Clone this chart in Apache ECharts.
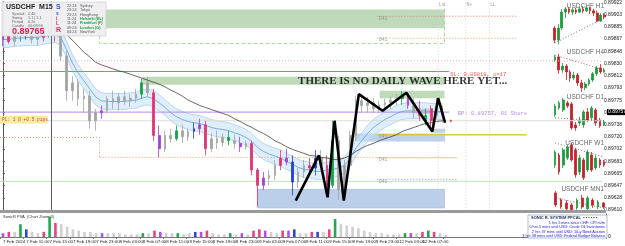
<!DOCTYPE html>
<html><head><meta charset="utf-8"><title>USDCHF M15</title>
<script src="https://cdn.jsdelivr.net/npm/echarts@6.0.0/dist/echarts.min.js"></script>
<style>html,body{margin:0;padding:0;background:#fff;overflow:hidden}#chart{width:625px;height:246px}</style>
</head><body><div id="chart"></div><script>
// ---------- DATA (prices in points = price x 100000, one slot = 1 hour) ----------
const timeTicks = ['7 Feb 2024','7 Feb 11:00','7 Feb 15:00','7 Feb 19:00','7 Feb 23:00','8 Feb 03:00','8 Feb 07:00','8 Feb 11:00','8 Feb 15:00','8 Feb 19:00','8 Feb 23:00','9 Feb 03:00','9 Feb 07:00','9 Feb 11:00','9 Feb 15:00','9 Feb 19:00','9 Feb 23:00','12 Feb 03:00','12 Feb 07:00','12 Feb 11:00'];
const slotsPerTick = 4;
const slotCount = 104;
// [open, close, low, high]
const ohlc = [
[89866,89871,89856,89878],[89871,89863,89860,89881],[89863,89874,89856,89878],[89874,89878,89863,89884],
[89878,89872,89866,89887],[89872,89866,89860,89881],[89866,89869,89857,89878],[89869,89881,89863,89886],
[89881,89875,89869,89893],[89875,89884,89863,89890],[89884,89841,89834,89890],[89841,89789,89774,89849],
[89789,89801,89774,89811],[89801,89777,89767,89807],[89777,89781,89756,89792],[89781,89744,89732,89789],
[89744,89756,89729,89762],[89756,89759,89747,89767],[89759,89777,89755,89781],[89777,89771,89762,89789],
[89771,89780,89759,89786],[89780,89774,89768,89789],[89774,89778,89765,89784],[89778,89784,89771,89792],
[89784,89801,89777,89807],[89801,89786,89781,89810],[89786,89722,89714,89792],[89722,89702,89689,89737],
[89702,89722,89697,89729],[89722,89717,89711,89732],[89717,89729,89714,89737],[89729,89720,89711,89738],
[89720,89728,89714,89732],[89728,89732,89717,89741],[89732,89738,89723,89747],[89738,89702,89692,89744],
[89702,89717,89697,89726],[89717,89711,89702,89729],[89711,89719,89705,89725],[89719,89714,89707,89729],
[89714,89710,89702,89723],[89710,89705,89697,89720],[89705,89710,89700,89714],[89710,89670,89662,89714],
[89670,89647,89615,89673],[89647,89658,89640,89667],[89658,89662,89647,89670],[89662,89677,89655,89685],
[89677,89688,89670,89700],[89688,89682,89677,89702],[89682,89652,89632,89692],[89652,89667,89643,89673],
[89667,89677,89658,89685],[89677,89673,89667,89688],[89673,89688,89662,89700],[89688,89677,89673,89700],
[89677,89647,89640,89692],[89647,89714,89643,89744],[89714,89640,89625,89722],[89640,89677,89632,89685],
[89677,89722,89670,89729],[89722,89774,89714,89781],[89774,89767,89756,89784],[89767,89771,89756,89780],
[89771,89762,89756,89778],[89762,89768,89755,89774],[89768,89771,89759,89777],[89771,89775,89762,89780],
[89775,89777,89767,89784],[89777,89781,89768,89789],[89781,89767,89762,89786],[89767,89756,89747,89778],
[89756,89752,89744,89774],[89752,89744,89737,89762],[89744,89762,89729,89767],[89762,89752,89747,89778],
[89752,89756,89741,89767]];
const pvaTone = ['p','r','n','g','b','n','n','r','g','r','n','n','n','n','n','n','n','p','n','n','n','n','n','n','g','n','r','p','n','n','g','n','n','b','p','r','n','n','n','g','n','p','n','r','r','p','n','n','r','p','b','n','n','r','b','n','r','g','n','n','n','n','n','n','n','n','n','n','n','g','p','n','r','g','r','n','n'];
const volume = [3,4,4,10,6,4,3,4,16,11,10,8,6,5,4,4,3,3,3,3,3,2,2,2,3,3,5,4,3,3,3,2,3,4,4,5,3,2,2,3,2,3,2,5,6,5,4,3,5,5,6,3,3,4,4,4,6,14,10,9,8,7,5,4,3,3,2,2,2,3,3,3,4,5,4,3,2];
const envMid = [89866,89866,89868,89868,89869,89869,89869,89871,89872,89874,89869,89851,89831,89816,89804,89792,89780,89774,89773,89773,89773,89773,89774,89775,89778,89780,89777,89771,89764,89756,89750,89746,89743,89741,89740,89737,89734,89732,89731,89729,89726,89723,89719,89713,89704,89698,89694,89691,89688,89683,89679,89674,89671,89670,89668,89668,89670,89671,89673,89677,89688,89703,89714,89725,89734,89740,89746,89750,89755,89758,89759,89759,89759,89759,89758,89758,89758];
const envHalf = 12;
const maSlow = [null,null,null,null,null,null,null,null,null,null,89883,89874,89865,89856,89847,89840,89832,89828,89825,89822,89819,89817,89814,89811,89808,89805,89802,89799,89795,89790,89786,89781,89775,89771,89767,89764,89761,89758,89755,89752,89747,89743,89738,89734,89729,89725,89720,89714,89710,89705,89701,89698,89695,89692,89691,89689,89688,89686,89686,89688,89692,89698,89703,89707,89710,89714,89717,89720,89723,89728,89731,89734,89737,89740,89741,89743,89744];
// zigzag pivots [slot, price]
const zigzag = [[50.6,89624],[54.6,89692],[56.1,89629],[57.3,89744],[58.9,89624],[61.5,89784],[65.6,89759],[69.7,89786],[74.2,89728],[75.2,89778],[76.4,89741]];
// zones [slotFrom, slotTo, priceTop, priceBottom]
const zones = [[17.2,76.3,89911,89883],[16.7,76.3,89935,89860],[24.1,76.3,89810,89798],[65.1,76.3,89789,89778],[74.2,76.4,89732,89726],[60.8,76.4,89725,89713],[44.0,76.3,89641,89613],[71.4,74.2,89762,89755]];
const zoneKinds = ['green','greenDash','green','green','blue','blue','blueBig','pos'];
// level segments [slot1, price1, slot2, price2]
const levels = [[-0.5,89818,77.1,89818],[-0.5,89834,103.5,89834],[64.7,89901,88.7,89901],[64.7,89868,88.7,89868],[-0.5,89757,77.1,89757],[-0.5,89744,103.5,89744],[64.7,89723,90.5,89723],[-0.5,89719,16.7,89719],[16.7,89719,16.7,89689],[16.7,89689,78.4,89689],[64.7,89688,78.4,89688],[-0.5,89653,103.5,89653],[64.7,89656,78.4,89656],[8.4,89935,8.4,89600],[75.2,89935,75.2,89600],[80.0,89935,80.0,89600],[84.1,89935,84.1,89600]];
const levelKinds = ['red','pinkDot','redDot','oliveDot','purple','grey','yellow','brownDot','brownDot','brownDot','oliveDot','green','blueDot','dark','vdot','vdot','vdot'];
const notes = [
 {s:51.0,p:89803,text:'THERE IS NO DAILY WAVE HERE YET...',kind:'big'},
 {s:77.3,p:89813,text:'SL: 0.89818, p=17',kind:'red'},
 {s:78.6,p:89755,text:'BP: 0.89757, 01 Shore',kind:'purple'},
 {s:65.0,p:89897,text:'D41',kind:'tag'},{s:65.0,p:89865,text:'D41',kind:'tag'},{s:65.0,p:89720,text:'D41',kind:'tag'},
 {s:65.0,p:89686,text:'D41',kind:'tag'},{s:65.0,p:89653,text:'D41',kind:'tag'},
 {s:75.3,p:89918,text:'Lx',kind:'tag'},{s:80.1,p:89918,text:'Nx',kind:'tag'},{s:84.2,p:89918,text:'LL',kind:'tag'}
];
const stopMarker = [[77.4,89744]];
const lastPrice = 89757;
// mini timeframe panels
const h1Candles = [[89714,89665,89653,89722],[89665,89714,89649,89730],[89714,89779,89706,89792],[89779,89792,89755,89800],[89792,89779,89771,89800],[89779,89788,89767,89796],[89788,89779,89771,89796],[89779,89792,89775,89800],[89792,89784,89775,89804],[89784,89796,89779,89804],[89796,89784,89771,89800],[89784,89775,89763,89792],[89775,89743,89739,89784],[89743,89767,89739,89775],[89767,89759,89751,89775]];
const h1Trend = [89653,89755];
const h4Candles = [[89800,89812,89792,89820],[89812,89759,89743,89824],[89759,89775,89747,89787],[89775,89751,89718,89783],[89751,89726,89710,89759],[89726,89738,89718,89751],[89738,89706,89694,89747],[89706,89686,89669,89718],[89686,89702,89677,89710],[89702,89718,89694,89726],[89718,89743,89710,89751],[89743,89767,89734,89775],[89767,89751,89743,89783],[89751,89759,89747,89767]];
const h4Trend = [89820,89759];
const d1Candles = [[89831,89867,89822,89876],[89859,89880,89851,89888],[89851,89892,89843,89900],[89880,89867,89859,89888],[89876,89778,89770,89884],[89790,89778,89766,89802],[89798,89810,89786,89823],[89790,89843,89778,89851],[89843,89810,89802,89859],[89819,89859,89810,89867],[89851,89798,89786,89859],[89810,89786,89778,89819],[89790,89802,89786,89810]];
const d1Trend = [89819,89806];
const w1Candles = [[89810,89863,89798,89872],[89851,89782,89770,89859],[89810,89872,89798,89880],[89839,89884,89831,89892],[89892,89831,89823,89900],[89872,89770,89758,89880],[89782,89839,89770,89851],[89831,89758,89749,89839],[89790,89863,89782,89872],[89851,89790,89782,89863],[89798,89839,89790,89851],[89831,89810,89798,89839],[89823,89810,89802,89831]];
const w1Trend = [89900,89843];
const mn1Candles = [[89888,89839,89831,89896],[89859,89831,89823,89867],[89847,89823,89819,89859],[89839,89819,89810,89847],[89827,89859,89819,89867],[89867,89831,89823,89880],[89823,89867,89810,89876],[89859,89839,89827,89867],[89831,89851,89823,89859],[89847,89831,89823,89851]];
const mn1Trend = [89867,89827];
const miniTitles = ['USDCHF H1','USDCHF H4','USDCHF D1','USDCHF W1','USDCHF MN1'];
const infoRows = [['Spread','2.40'],['Swing','1.1 | 1.1'],['Period','0.2s'],['Candle','00:08:56']];
const sessions = [['22:24','Sydney','#555'],['23:24','Tokyo','#555'],['23:24','HongKong','#555'],['11:24','Helsinki (EL)','#1a9a3a'],['11:24','Frankfurt (F)','#1a9a3a'],['09:24','London (G)','#1a9a3a'],['04:24','NewYork','#555']];
const newsLines = ['1 hrs 5 mins since CHF: CPI m/m','0 hrs 5 mins until USD: Crude Oil Inventories','2 hrs 37 mins until USD: 10-y Bond Auction','3 hrs 38 mins until USD: Federal Budget Balance'];
const bidPrice = '0.89765';
const plText = 'PL: 1 β +0.5 pips';

// ---------- STYLES ----------
const toneColor = {n:'#a3a3a3',g:'#14a046',b:'#1f3fd8',r:'#e2336f',p:'#a43ce2'};
const volColor = {n:'#cfcfcf',g:'#22a650',b:'#2a48d8',r:'#e4457c',p:'#ad52e6'};
const zoneStyle = {
 green:{fill:'rgba(170,205,160,0.75)',stroke:null},
 greenDash:{fill:'none',stroke:'#b5d99c',lineWidth:1,lineDash:[4,2]},
 blue:{fill:'rgba(170,195,228,0.75)',stroke:null},
 blueBig:{fill:'rgba(176,199,230,0.85)',stroke:'#9fb8da',lineWidth:0.6},
 pos:{fill:'rgba(240,170,180,0.8)',stroke:'#e05050',lineWidth:0.8,lineDash:[1,1]}
};
const levelStyle = {
 red:{stroke:'#e46a6a',lineWidth:1},
 pinkDot:{stroke:'#f0b0b0',lineWidth:1,lineDash:[1,2]},
 redDot:{stroke:'#e87070',lineWidth:1,lineDash:[1,2]},
 oliveDot:{stroke:'#b8b040',lineWidth:1,lineDash:[1,2]},
 purple:{stroke:'#b48ae8',lineWidth:1},
 grey:{stroke:'#dcdcdc',lineWidth:1},
 yellow:{stroke:'#d8c84a',lineWidth:1.3},
 brownDot:{stroke:'#d49a7a',lineWidth:1,lineDash:[1,2]},
 green:{stroke:'#bfe3bf',lineWidth:1},
 blueDot:{stroke:'#8a8ae8',lineWidth:1,lineDash:[1,2]},
 dark:{stroke:'#606060',lineWidth:1},
 vdot:{stroke:'#d0d0d0',lineWidth:1,lineDash:[1,2]}
};
const noteStyle = {
 big:{color:'#000',fontFamily:'Liberation Serif',fontWeight:'bold',fontSize:11},
 red:{color:'#e03030',fontFamily:'Liberation Mono',fontSize:5.5},
 purple:{color:'#a070e0',fontFamily:'Liberation Mono',fontSize:5.5},
 tag:{color:'#888',fontFamily:'Liberation Mono',fontSize:4.5}
};

const slots = Array.from({length:slotCount},(_,i)=>String(i));
const yMin = 89610, yMax = 89923;
const fmtP = v => (v/100000).toFixed(5);
const isTick = i => i%slotsPerTick===0 && i/slotsPerTick<timeTicks.length;

const chart = echarts.init(document.getElementById('chart'), null, {renderer:'canvas'});

const miniDefs = [
 {data:h1Candles,trend:h1Trend,top:3,height:44,min:89637,max:89816,titleY:3},
 {data:h4Candles,trend:h4Trend,top:52,height:42,min:89661,max:89832,titleY:49},
 {data:d1Candles,trend:d1Trend,top:98,height:36,min:89753,max:89900,titleY:94},
 {data:w1Candles,trend:w1Trend,top:143,height:38,min:89745,max:89900,titleY:140},
 {data:mn1Candles,trend:mn1Trend,top:190,height:24,min:89802,max:89900,titleY:186}
];

const grids = [
 {left:0,right:19,top:0,height:210},
 {left:0,right:19,top:214,height:23}
];
const xAxes = [
 {type:'category',gridIndex:0,data:slots,show:false,boundaryGap:true},
 {type:'value',gridIndex:0,min:-0.5,max:slotCount-0.5,show:false},
 {type:'category',gridIndex:1,data:slots,boundaryGap:true,
  axisLine:{lineStyle:{color:'#777',width:1}},
  axisTick:{show:true,length:2,lineStyle:{color:'#777'},interval:(i)=>isTick(i)},
  axisLabel:{fontSize:4.4,color:'#222',fontFamily:'Liberation Sans',margin:2.5,align:'left',showMinLabel:true,hideOverlap:false,
   interval:(i)=>isTick(i),
   formatter:(v,i)=> isTick(i)? timeTicks[i/slotsPerTick] : ''}}
];
const yAxes = [
 {type:'value',gridIndex:0,min:yMin,max:yMax,position:'right',interval:18.33,
  splitLine:{show:false},axisLine:{show:true,lineStyle:{color:'#555'}},axisTick:{show:true,length:2,lineStyle:{color:'#555'}},
  axisLabel:{fontSize:5,color:'#222',fontFamily:'Liberation Sans',margin:2,formatter:fmtP}},
 {type:'value',gridIndex:1,min:0,max:18,position:'right',splitLine:{show:false},interval:18,
  axisLine:{show:true,lineStyle:{color:'#555'}},axisTick:{show:false},
  axisLabel:{fontSize:5,color:'#222',margin:2,formatter:v=>v===0?'0':''}}
];
const series = [];

series.push({type:'custom',coordinateSystem:'cartesian2d',xAxisIndex:1,yAxisIndex:0,z:1,clip:true,silent:true,
 data:zones,
 renderItem:(params,api)=>{
   const a = api.coord([api.value(0),api.value(2)]);
   const b = api.coord([api.value(1),api.value(3)]);
   const st = zoneStyle[zoneKinds[params.dataIndex]];
   return {type:'rect',shape:{x:a[0],y:a[1],width:b[0]-a[0],height:b[1]-a[1]},style:Object.assign({},st)};
 }});
series.push({type:'line',xAxisIndex:0,yAxisIndex:0,z:2,stack:'env',symbol:'none',silent:true,
 data:envMid.map(v=>v-envHalf),lineStyle:{color:'#a9cdf0',width:0.8}});
series.push({type:'line',xAxisIndex:0,yAxisIndex:0,z:2,stack:'env',symbol:'none',silent:true,
 data:envMid.map(()=>2*envHalf),lineStyle:{color:'#a9cdf0',width:0.8},areaStyle:{color:'rgba(200,226,248,0.85)'}});
series.push({type:'custom',coordinateSystem:'cartesian2d',xAxisIndex:1,yAxisIndex:0,z:3,clip:true,silent:true,
 data:levels,
 renderItem:(params,api)=>{
   const a = api.coord([api.value(0),api.value(1)]);
   const b = api.coord([api.value(2),api.value(3)]);
   const st = levelStyle[levelKinds[params.dataIndex]];
   return {type:'line',shape:{x1:a[0],y1:a[1],x2:b[0],y2:b[1]},style:Object.assign({fill:null},st)};
 }});
series.push({type:'line',xAxisIndex:0,yAxisIndex:0,z:4,symbol:'none',silent:true,data:envMid,lineStyle:{color:'#5d9ee0',width:0.8}});
series.push({type:'candlestick',xAxisIndex:0,yAxisIndex:0,z:5,barWidth:2.2,silent:true,
 data:ohlc.map((v,i)=>{const c=toneColor[pvaTone[i]];return {value:v,itemStyle:{color:c,color0:c,borderColor:c,borderColor0:c,borderWidth:0.8}};})});
series.push({type:'line',xAxisIndex:0,yAxisIndex:0,z:6,symbol:'none',silent:true,connectNulls:false,data:maSlow,lineStyle:{color:'#404040',width:0.8}});
series.push({type:'line',xAxisIndex:1,yAxisIndex:0,z:7,symbol:'none',silent:true,data:zigzag,lineStyle:{color:'#000',width:2.6}});
series.push({type:'scatter',xAxisIndex:1,yAxisIndex:0,z:8,symbol:'rect',symbolSize:2,silent:true,itemStyle:{color:'#e02020'},data:stopMarker});
series.push({type:'scatter',xAxisIndex:1,yAxisIndex:0,z:8,symbolSize:0,silent:true,
 data:notes.map(n=>({value:[n.s,n.p],label:Object.assign({show:true,position:'right',distance:0,formatter:n.text},noteStyle[n.kind])}))});
series.push({type:'bar',xAxisIndex:2,yAxisIndex:1,barWidth:2.6,silent:true,
 data:volume.map((v,i)=>({value:v,itemStyle:{color:volColor[pvaTone[i]]}}))});

miniDefs.forEach((m,k)=>{
 const g = grids.length;
 grids.push({left:553,right:19,top:m.top,height:m.height});
 const xi = xAxes.length, yi = yAxes.length;
 xAxes.push({type:'category',gridIndex:g,data:m.data.map((_,i)=>i),show:false,boundaryGap:true});
 yAxes.push({type:'value',gridIndex:g,min:m.min,max:m.max,show:false});
 series.push({type:'candlestick',xAxisIndex:xi,yAxisIndex:yi,barWidth:2.2,silent:true,data:m.data,
  itemStyle:{color:'#1e9a3c',color0:'#c8202a',borderColor:'#1e9a3c',borderColor0:'#c8202a',borderWidth:0.8}});
 series.push({type:'line',xAxisIndex:xi,yAxisIndex:yi,symbol:'none',silent:true,
  data:[[0,m.trend[0]],[m.data.length-1,m.trend[1]]],lineStyle:{color:'#555',width:0.8,type:[1,2]}});
});

const gfx = [];
gfx.push({type:'rect',shape:{x:2,y:2,width:104,height:34},style:{fill:'rgba(238,238,240,0.95)',stroke:'#c8c8c8',lineWidth:0.6},z:100});
gfx.push({type:'text',x:6,y:4,style:{text:'USDCHF  M15',fontSize:7,fontWeight:'bold',fill:'#222',fontFamily:'Liberation Sans'},z:101});
infoRows.forEach((r,i)=>{
 gfx.push({type:'text',x:12,y:12+i*4,style:{text:r[0],fontSize:3.8,fill:'#666',fontFamily:'Liberation Sans'},z:101});
 gfx.push({type:'text',x:28,y:12+i*4,style:{text:r[1],fontSize:3.8,fill:'#666',fontFamily:'Liberation Sans'},z:101});
});
gfx.push({type:'text',x:12,y:27,style:{text:bidPrice,fontSize:9,fontWeight:'bold',fill:'#d21f55',fontFamily:'Liberation Sans'},z:101});
[['S','#3050d0',4],['s','#3050d0',11],['i','#d03070',16],['L','#d03070',21],['R','#d03070',27]].forEach(l=>{
 gfx.push({type:'text',x:56,y:l[2],style:{text:l[0],fontSize:l[0]==='S'||l[0]==='R'?7:5,fontWeight:'bold',fill:l[1],fontFamily:'Liberation Sans'},z:101});
});
sessions.forEach((s,i)=>{
 gfx.push({type:'text',x:67,y:4+i*4.3,style:{text:s[0],fontSize:3.8,fill:'#555',fontFamily:'Liberation Sans'},z:101});
 gfx.push({type:'text',x:80,y:4+i*4.3,style:{text:s[1],fontSize:3.8,fill:s[2],fontWeight:s[2]==='#555'?'normal':'bold',fontFamily:'Liberation Sans'},z:101});
});
miniDefs.forEach((m,k)=>{
 gfx.push({type:'text',x:604,y:m.titleY,style:{text:miniTitles[k],fontSize:6.5,fill:'#6a6a6a',align:'right',fontFamily:'Liberation Sans'},z:90});
});
gfx.push({type:'rect',shape:{x:0,y:210,width:606,height:3},style:{fill:'#9a9a9a'},z:95});
gfx.push({type:'text',x:3,y:215,style:{text:'SonicR PVA  (Chart Zoom 3)',fontSize:4,fill:'#333',fontFamily:'Liberation Sans'},z:96});
gfx.push({type:'rect',shape:{x:0,y:116,width:47,height:7},style:{fill:'#fbf3a0',stroke:'#e8d870',lineWidth:0.5},z:96});
gfx.push({type:'text',x:2,y:117.5,style:{text:plText,fontSize:4.5,fill:'#e03030',fontFamily:'Liberation Mono'},z:97});
gfx.push({type:'rect',shape:{x:528,y:215,width:79,height:23},style:{fill:'#fff',stroke:'#8090a0',lineWidth:0.6},z:97});
gfx.push({type:'text',x:531,y:216,style:{text:'SONIC R. SYSTEM PPCAL  ▪ ▪ ▪ ▪ ▪ ▪',fontSize:4,fontWeight:'bold',fill:'#203060',fontFamily:'Liberation Sans'},z:98});
newsLines.forEach((t,i)=>{
 gfx.push({type:'text',x:605,y:221+i*4.3,style:{text:t,fontSize:3.8,fill:'#2020e0',align:'right',fontFamily:'Liberation Sans'},z:98});
});

chart.setOption({
 animation:false,
 backgroundColor:'#ffffff',
 grid:grids, xAxis:xAxes, yAxis:yAxes, series:series, graphic:gfx
});
// current price tag on the price scale, placed through the price axis
const py = chart.convertToPixel({yAxisIndex:0}, lastPrice);
chart.setOption({graphic:gfx.concat([
 {type:'rect',shape:{x:607,y:py-3,width:18,height:6},style:{fill:'#000'},z:110},
 {type:'text',x:608,y:py-2.5,style:{text:fmtP(lastPrice),fontSize:5,fill:'#fff',fontFamily:'Liberation Sans'},z:111}
])});
</script></body></html>
